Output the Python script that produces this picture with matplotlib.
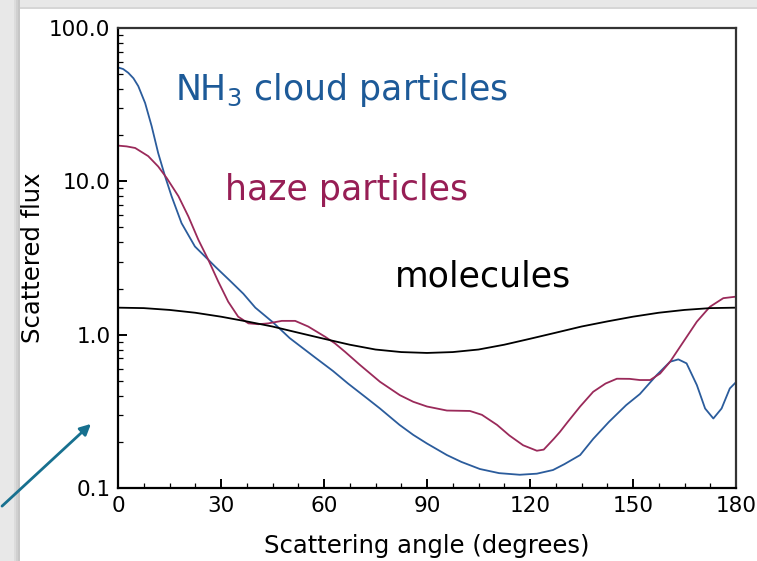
import numpy as np
import matplotlib.pyplot as plt
from matplotlib.patches import Rectangle
from matplotlib.ticker import FixedLocator, MultipleLocator, LogLocator, NullFormatter

# data
cloud_angle = [0, 1.5, 3, 4.5, 5.9, 7.9, 9.8, 11.7, 13.7, 15.6, 18.5, 22.4, 26.3, 28.3, 32.6,
               36.5, 40, 45.2, 50, 57.4, 62.6, 67, 72.5, 76.3, 82, 86, 90, 95.8, 100, 105.4,
               111, 117, 122, 126.7, 130, 134.6, 138.4, 143, 148, 152, 156.9, 160.8, 163.2,
               165.6, 168.6, 171, 173.4, 175.8, 178.2, 180]
cloud_flux = [55.3, 54, 51, 47, 41.8, 32.4, 22.9, 15.3, 10.8, 8.0, 5.34, 3.76, 3.08, 2.78, 2.25,
              1.85, 1.5, 1.2, 0.95, 0.71, 0.58, 0.48, 0.385, 0.33, 0.258, 0.222, 0.195, 0.164,
              0.148, 0.133, 0.125, 0.122, 0.124, 0.131, 0.143, 0.164, 0.209, 0.27, 0.347, 0.41,
              0.545, 0.666, 0.69, 0.65, 0.469, 0.33, 0.284, 0.33, 0.446, 0.49]

haze_angle = [0, 2.5, 5, 8.8, 11.7, 14.2, 17.6, 20.5, 23.4, 26.3, 29.2, 32.1, 35, 38, 40.9,
              43.8, 47.7, 51.6, 55.4, 60.3, 63.2, 66.1, 70.5, 76.3, 82.1, 86, 90, 95.8, 102.5,
              106, 110.4, 114, 118, 122, 124, 127, 128.7, 131, 134.6, 138.4, 142, 145.3, 149,
              152, 155, 157.9, 160.8, 164.7, 168.6, 172.4, 176.3, 180]
haze_flux = [17.1, 16.9, 16.5, 14.6, 12.5, 10.5, 8.0, 5.9, 4.16, 3.08, 2.22, 1.64, 1.31, 1.185,
             1.17, 1.185, 1.23, 1.23, 1.13, 0.97, 0.877, 0.774, 0.634, 0.493, 0.403, 0.365, 0.34,
             0.32, 0.318, 0.30, 0.258, 0.22, 0.19, 0.175, 0.178, 0.21, 0.232, 0.27, 0.34, 0.424,
             0.48, 0.516, 0.515, 0.506, 0.506, 0.558, 0.666, 0.9, 1.216, 1.52, 1.73, 1.77]

mol_angle = [0, 7.5, 15, 22.5, 30, 37.5, 45, 52.5, 60, 67.5, 75, 82.5, 90, 97.5, 105, 112.5,
             120, 127.5, 135, 142.5, 150, 157.5, 165, 172.5, 180]
mol_flux = [1.50, 1.49, 1.45, 1.39, 1.31, 1.22, 1.13, 1.03, 0.94, 0.86, 0.80, 0.77, 0.76, 0.77,
            0.80, 0.86, 0.94, 1.03, 1.13, 1.22, 1.31, 1.39, 1.45, 1.49, 1.50]

x_ticks = [0, 30, 60, 90, 120, 150, 180]
y_ticks = [0.1, 1, 10, 100]
y_ticklabels = ['0.1', '1.0', '10.0', '100.0']

blue = '#2b5c9c'
maroon = '#9a2a5a'

fig = plt.figure(figsize=(7.57, 5.61), dpi=100, facecolor='#e8e8e8')
# white slide card with a soft edge shadow
fig.patches.append(Rectangle((20 / 757, 0), 1, 1 - 9 / 561, transform=fig.transFigure,
                             facecolor='white', edgecolor='none', zorder=-5))
for i, c in enumerate(['#dcdcdc', '#d0d0d0', '#c6c6c6']):
    fig.patches.append(Rectangle(((14 + 2 * i) / 757, 0), 2 / 757, 1, transform=fig.transFigure,
                                 facecolor=c, edgecolor='none', zorder=-5))
fig.patches.append(Rectangle((20 / 757, 1 - 9 / 561), 1, 2 / 561, transform=fig.transFigure,
                             facecolor='#d6d6d6', edgecolor='none', zorder=-5))

ax = fig.add_axes([118 / 757, 1 - 488 / 561, 618 / 757, 460 / 561])

ax.plot(cloud_angle, cloud_flux, color=blue, lw=1.3)
ax.plot(haze_angle, haze_flux, color=maroon, lw=1.3)
ax.plot(mol_angle, mol_flux, color='black', lw=1.3)

ax.set_yscale('log')
ax.set_xlim(0, 180)
ax.set_ylim(0.1, 100)

ax.xaxis.set_major_locator(FixedLocator(x_ticks))
ax.xaxis.set_minor_locator(MultipleLocator(7.5))
ax.set_yticks(y_ticks)
ax.set_yticklabels(y_ticklabels)
ax.yaxis.set_minor_locator(LogLocator(base=10, subs=np.arange(2, 10)))
ax.yaxis.set_minor_formatter(NullFormatter())

ax.tick_params(which='major', direction='in', length=6.5, width=1.4, labelsize=15.5)
ax.tick_params(axis='x', which='major', pad=6)
ax.tick_params(axis='y', which='major', pad=5.5)
ax.tick_params(which='minor', direction='in', length=3.5, width=0.9)

for side in ['left', 'bottom']:
    ax.spines[side].set_linewidth(1.6)
    ax.spines[side].set_color('black')
for side in ['top', 'right']:
    ax.spines[side].set_linewidth(1.6)
    ax.spines[side].set_color('#333333')

ax.set_xlabel('Scattering angle (degrees)', fontsize=17.5, labelpad=13)
ax.set_ylabel('Scattered flux', fontsize=17.5, labelpad=3)

ax.text(0.092, 0.8435, r'NH$_\mathregular{3}$ cloud particles', transform=ax.transAxes,
        color='#1d5a98', fontsize=25, va='baseline')
ax.text(0.173, 0.626, 'haze particles', transform=ax.transAxes,
        color='#971e55', fontsize=25, va='baseline')
ax.text(0.448, 0.439, 'molecules', transform=ax.transAxes,
        color='black', fontsize=25, va='baseline')

# arrow pointing into the plot from the lower left
fig.add_artist(plt.Annotation('', xy=(93 / 757, 1 - 422 / 561), xytext=(0, 1 - 508 / 561),
                              xycoords='figure fraction', textcoords='figure fraction',
                              arrowprops=dict(arrowstyle='-|>', color='#17708f', lw=2,
                                              mutation_scale=16)))

fig.savefig('out.png', dpi=100, facecolor=fig.get_facecolor())
